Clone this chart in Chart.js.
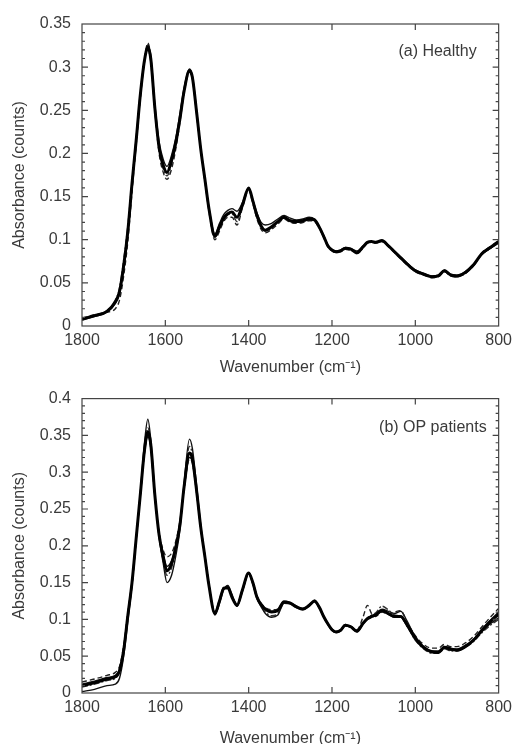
<!DOCTYPE html>
<html>
<head>
<meta charset="utf-8">
<script src="https://cdn.jsdelivr.net/npm/chart.js@4"></script>
<style>
  body { margin: 0; background: #fff; overflow: hidden; width: 517px; height: 744px; }
  canvas { position: absolute; left: 0; }
  #healthy { top: 0; }
  #patients { top: 378px; }
</style>
</head>
<body>
<canvas id="healthy" width="517" height="378"></canvas>
<canvas id="patients" width="517" height="372"></canvas>
<script>
// Wavenumber grid (cm-1), shared by every spectrum
const wavenumbers = [1800,1770,1740,1720,1710,1700,1690,1680,1670,1660,1650,1642,1635,1625,1615,1605,1596,1585,1575,1565,1555,1542,1535,1525,1515,1505,1495,1481,1470,1460,1450,1440,1428,1415,1400,1390,1380,1370,1360,1345,1330,1315,1300,1285,1270,1255,1242,1230,1220,1210,1200,1190,1180,1168,1155,1140,1125,1115,1105,1095,1080,1065,1050,1035,1020,1000,980,960,945,930,915,900,880,860,840,820,800];

// --- (a) Healthy spectra ---
const healthy1 = [0.008,0.012,0.017,0.028,0.040,0.070,0.110,0.165,0.215,0.268,0.308,0.323,0.310,0.252,0.207,0.186,0.178,0.192,0.212,0.240,0.272,0.296,0.288,0.248,0.205,0.170,0.135,0.104,0.115,0.125,0.130,0.132,0.126,0.140,0.160,0.145,0.128,0.116,0.111,0.115,0.121,0.126,0.122,0.121,0.122,0.124,0.123,0.114,0.104,0.093,0.088,0.086,0.087,0.090,0.089,0.085,0.092,0.097,0.098,0.097,0.099,0.093,0.086,0.079,0.072,0.064,0.060,0.057,0.058,0.064,0.059,0.058,0.062,0.071,0.084,0.091,0.098];
const healthy2 = [0.007,0.011,0.016,0.026,0.037,0.066,0.106,0.160,0.212,0.265,0.306,0.326,0.313,0.256,0.214,0.193,0.185,0.198,0.218,0.246,0.276,0.298,0.290,0.250,0.206,0.171,0.136,0.107,0.119,0.129,0.134,0.136,0.133,0.143,0.159,0.146,0.131,0.120,0.117,0.119,0.124,0.128,0.125,0.123,0.124,0.126,0.124,0.115,0.105,0.094,0.088,0.087,0.088,0.091,0.090,0.087,0.093,0.097,0.098,0.097,0.099,0.094,0.087,0.080,0.073,0.065,0.061,0.058,0.059,0.065,0.060,0.059,0.063,0.072,0.083,0.090,0.096];
const healthy3 = [0.009,0.013,0.016,0.020,0.030,0.058,0.098,0.155,0.210,0.265,0.309,0.328,0.312,0.249,0.200,0.178,0.170,0.182,0.205,0.236,0.270,0.294,0.287,0.246,0.203,0.168,0.132,0.100,0.110,0.121,0.126,0.126,0.117,0.137,0.158,0.142,0.124,0.112,0.108,0.112,0.118,0.124,0.120,0.119,0.120,0.122,0.121,0.113,0.103,0.092,0.087,0.085,0.086,0.089,0.088,0.084,0.091,0.096,0.097,0.096,0.098,0.092,0.085,0.078,0.071,0.063,0.059,0.056,0.057,0.063,0.058,0.057,0.061,0.070,0.085,0.092,0.099];
const healthy4 = [0.008,0.012,0.018,0.030,0.044,0.076,0.116,0.168,0.218,0.270,0.308,0.320,0.306,0.250,0.206,0.182,0.174,0.188,0.210,0.242,0.274,0.295,0.286,0.247,0.204,0.169,0.134,0.103,0.113,0.123,0.129,0.130,0.121,0.138,0.160,0.144,0.126,0.114,0.110,0.113,0.120,0.125,0.121,0.120,0.121,0.123,0.122,0.113,0.103,0.092,0.087,0.085,0.086,0.089,0.088,0.084,0.091,0.096,0.097,0.096,0.098,0.093,0.086,0.079,0.072,0.064,0.060,0.057,0.058,0.063,0.058,0.057,0.061,0.070,0.083,0.090,0.097];

// --- (b) OP patients spectra ---
const patient1 = [0.010,0.014,0.019,0.022,0.030,0.058,0.105,0.150,0.210,0.270,0.330,0.355,0.338,0.268,0.215,0.185,0.166,0.176,0.198,0.228,0.280,0.326,0.318,0.275,0.225,0.185,0.145,0.108,0.125,0.142,0.143,0.130,0.119,0.140,0.163,0.150,0.130,0.120,0.114,0.110,0.112,0.124,0.122,0.117,0.114,0.119,0.125,0.116,0.104,0.094,0.086,0.083,0.085,0.092,0.090,0.084,0.095,0.101,0.104,0.106,0.112,0.108,0.104,0.104,0.093,0.075,0.062,0.056,0.055,0.062,0.060,0.058,0.063,0.072,0.085,0.097,0.107];
const patient2 = [0.002,0.005,0.010,0.012,0.020,0.050,0.098,0.146,0.208,0.272,0.340,0.372,0.345,0.270,0.212,0.176,0.150,0.160,0.186,0.222,0.285,0.345,0.332,0.282,0.228,0.186,0.146,0.106,0.122,0.140,0.146,0.134,0.118,0.138,0.162,0.148,0.128,0.117,0.108,0.103,0.106,0.122,0.121,0.116,0.113,0.118,0.124,0.115,0.103,0.093,0.085,0.082,0.084,0.091,0.089,0.083,0.094,0.100,0.103,0.105,0.111,0.107,0.103,0.103,0.091,0.072,0.061,0.055,0.055,0.061,0.058,0.058,0.063,0.071,0.084,0.094,0.102];
const patient3 = [0.015,0.019,0.024,0.028,0.036,0.064,0.110,0.152,0.212,0.268,0.326,0.350,0.334,0.266,0.218,0.194,0.185,0.190,0.206,0.234,0.278,0.318,0.312,0.272,0.224,0.186,0.146,0.110,0.127,0.144,0.145,0.132,0.121,0.141,0.164,0.151,0.132,0.122,0.116,0.113,0.114,0.125,0.123,0.118,0.115,0.120,0.126,0.117,0.105,0.095,0.087,0.084,0.086,0.093,0.091,0.086,0.104,0.119,0.108,0.104,0.110,0.107,0.110,0.112,0.096,0.078,0.066,0.061,0.061,0.066,0.063,0.063,0.068,0.077,0.090,0.103,0.115];
const patient4 = [0.008,0.012,0.017,0.020,0.028,0.056,0.102,0.148,0.208,0.270,0.332,0.360,0.340,0.268,0.213,0.180,0.160,0.170,0.194,0.226,0.282,0.335,0.324,0.278,0.226,0.186,0.146,0.107,0.124,0.141,0.144,0.131,0.118,0.139,0.162,0.149,0.129,0.118,0.110,0.105,0.108,0.123,0.122,0.117,0.114,0.119,0.125,0.116,0.104,0.094,0.086,0.083,0.085,0.092,0.090,0.084,0.096,0.102,0.106,0.109,0.118,0.113,0.106,0.104,0.091,0.072,0.060,0.054,0.054,0.060,0.057,0.057,0.062,0.070,0.082,0.092,0.100];
const patient5 = [0.012,0.016,0.021,0.024,0.032,0.060,0.104,0.148,0.209,0.268,0.328,0.348,0.333,0.266,0.216,0.188,0.172,0.180,0.200,0.230,0.278,0.320,0.314,0.273,0.224,0.185,0.145,0.109,0.126,0.143,0.144,0.131,0.120,0.140,0.163,0.150,0.131,0.121,0.115,0.111,0.113,0.124,0.122,0.117,0.114,0.119,0.125,0.116,0.104,0.094,0.086,0.083,0.085,0.092,0.090,0.085,0.096,0.102,0.105,0.108,0.114,0.111,0.108,0.111,0.098,0.076,0.063,0.057,0.057,0.063,0.060,0.060,0.065,0.073,0.087,0.099,0.110];

const xTicks = [1800, 1600, 1400, 1200, 1000, 800];

Chart.defaults.font.family = '"Liberation Sans", Arial, sans-serif';
Chart.defaults.font.size = 16;
Chart.defaults.color = '#3a3a3a';

// pairs the wavenumber grid with one spectrum
function toPoints(vals) {
    return wavenumbers.map((w, i) => ({ x: w, y: vals[i] }));
}

// line styles: one heavy trace, the rest thin solid / dashed
const styles = [
    { borderWidth: 3, borderColor: '#000', borderDash: [] },
    { borderWidth: 1.4, borderColor: '#111', borderDash: [] },
    { borderWidth: 1.4, borderColor: '#222', borderDash: [5, 3] },
    { borderWidth: 1.4, borderColor: '#333', borderDash: [6, 2, 2, 2] },
    { borderWidth: 1.4, borderColor: '#111', borderDash: [] }
];

function makeDatasets(series) {
    return series.map((vals, i) => Object.assign({
        data: toPoints(vals),
        pointRadius: 0,
        cubicInterpolationMode: 'monotone',
        fill: false
    }, styles[i]));
}

// box frame, inward tick marks and the panel label
const frameTicks = {
    id: 'frameTicks',
    afterDatasetsDraw(chart, args, opts) {
        const { ctx, chartArea: a, scales: { x, y } } = chart;
        ctx.save();
        ctx.strokeStyle = '#444';
        ctx.lineWidth = 1.2;
        ctx.strokeRect(a.left, a.top, a.right - a.left, a.bottom - a.top);
        ctx.beginPath();
        const nMinor = Math.round(y.max / 0.01);
        for (let i = 1; i < nMinor; i++) {
            const py = y.getPixelForValue(i * 0.01);
            const len = i % 5 === 0 ? 6 : 3;
            ctx.moveTo(a.left, py); ctx.lineTo(a.left + len, py);
            ctx.moveTo(a.right, py); ctx.lineTo(a.right - len, py);
        }
        xTicks.slice(1, -1).forEach(v => {
            const px = x.getPixelForValue(v);
            ctx.moveTo(px, a.top); ctx.lineTo(px, a.top + 6);
            ctx.moveTo(px, a.bottom); ctx.lineTo(px, a.bottom - 6);
        });
        ctx.stroke();
        ctx.fillStyle = '#3a3a3a';
        ctx.font = '16px "Liberation Sans", Arial, sans-serif';
        ctx.textAlign = 'right';
        ctx.textBaseline = 'middle';
        ctx.fillText(opts.text, a.right - opts.dx, a.top + opts.dy);
        ctx.restore();
    }
};

function makeChart(id, series, yMax, label, pad, xHeight, titlePad) {
    return new Chart(document.getElementById(id), {
        type: 'line',
        data: { datasets: makeDatasets(series) },
        plugins: [frameTicks],
        options: {
            responsive: false,
            animation: false,
            devicePixelRatio: 1,
            layout: { padding: pad },
            plugins: {
                legend: { display: false },
                tooltip: { enabled: false },
                frameTicks: label
            },
            scales: {
                x: {
                    type: 'linear',
                    reverse: true,
                    min: 800,
                    max: 1800,
                    afterFit: s => { s.height = xHeight; },
                    afterBuildTicks: s => { s.ticks = xTicks.map(v => ({ value: v })); },
                    grid: { display: false, drawTicks: false },
                    border: { display: false },
                    ticks: { padding: 5, maxRotation: 0, callback: v => String(v) },
                    title: {
                        display: true,
                        text: 'Wavenumber (cm\u207B\u00B9)',
                        padding: { top: 0, bottom: titlePad }
                    }
                },
                y: {
                    min: 0,
                    max: yMax,
                    afterFit: s => { s.width = 82; },
                    grid: { display: false, drawTicks: false },
                    border: { display: false },
                    ticks: {
                        stepSize: 0.05,
                        padding: 11,
                        callback: v => String(Number(v.toFixed(2)))
                    },
                    title: {
                        display: true,
                        text: 'Absorbance (counts)',
                        padding: { top: 10, bottom: 0 }
                    }
                }
            }
        }
    });
}

makeChart('healthy', [healthy1, healthy2, healthy3, healthy4], 0.35,
    { text: '(a) Healthy', dx: 22, dy: 28 },
    { top: 24, right: 17, left: 0, bottom: 0 }, 52, 0.4);

makeChart('patients', [patient1, patient2, patient3, patient4, patient5], 0.4,
    { text: '(b) OP patients', dx: 12, dy: 29 },
    { top: 13, right: 16, left: 0, bottom: 0 }, 57, 1.4);
</script>
</body>
</html>
